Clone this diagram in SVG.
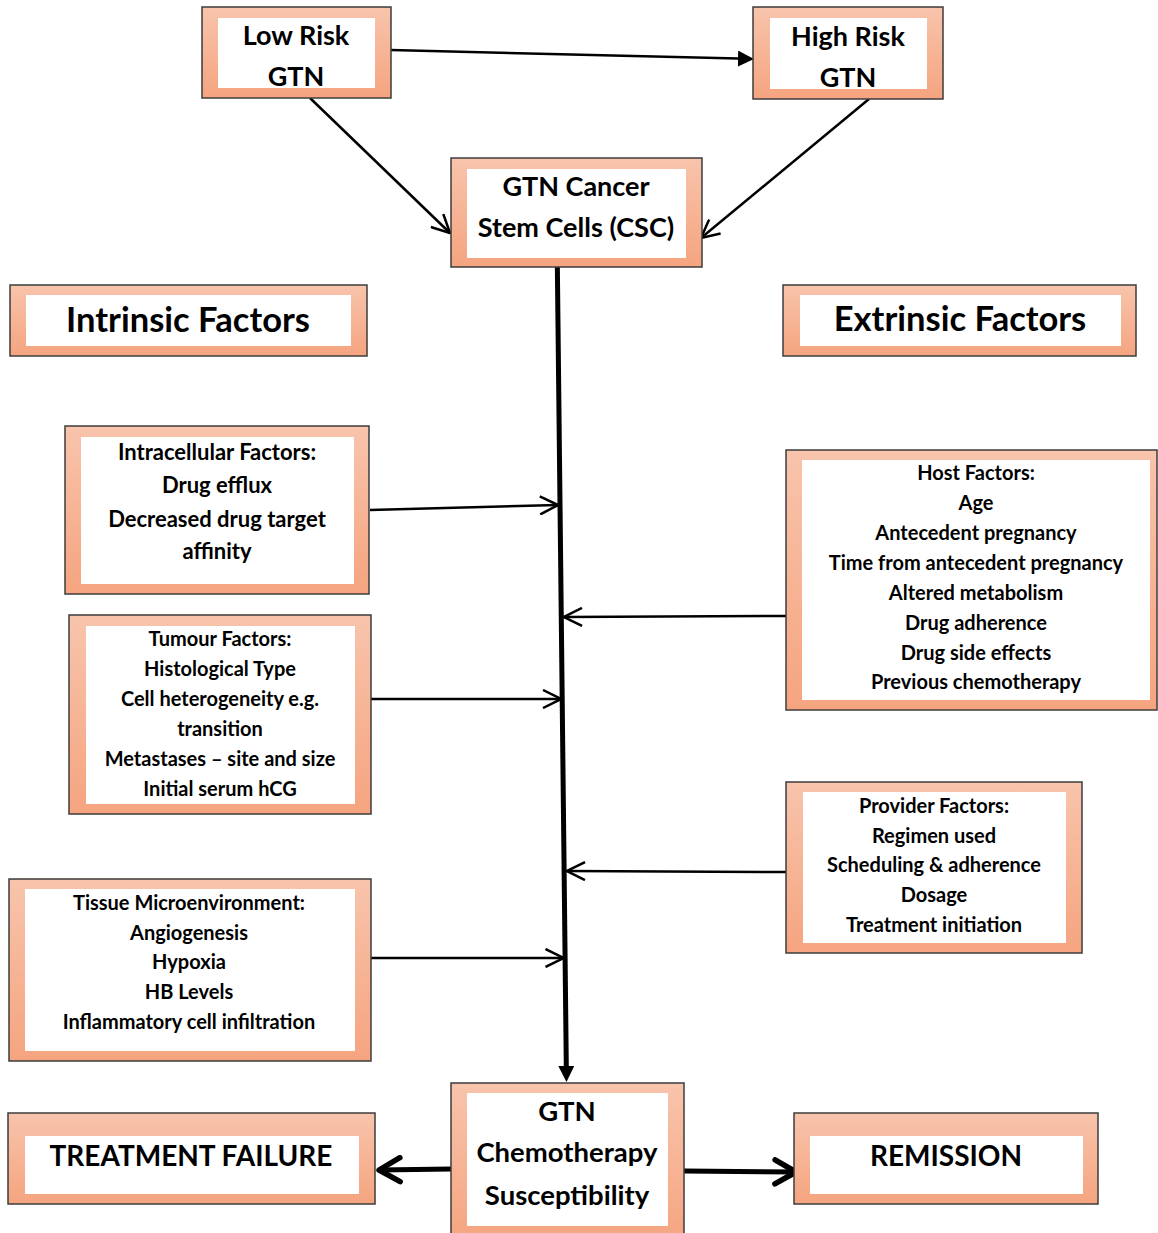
<svg xmlns="http://www.w3.org/2000/svg" width="1158" height="1233" viewBox="0 0 1158 1233">
<defs>
<linearGradient id="peach" x1="0" y1="0" x2="0" y2="1">
<stop offset="0" stop-color="#f8c4ac"/>
<stop offset="1" stop-color="#f5a47f"/>
</linearGradient>
<marker id="open" viewBox="0 0 20 20" refX="19" refY="10" markerWidth="20" markerHeight="20" markerUnits="userSpaceOnUse" orient="auto">
<path d="M1,1 L19,10 L1,19" fill="none" stroke="#000" stroke-width="2.5"/>
</marker>
<marker id="openThick" viewBox="0 0 30 30" refX="26" refY="15" markerWidth="30" markerHeight="30" markerUnits="userSpaceOnUse" orient="auto">
<path d="M5,3 L26,15 L5,27" fill="none" stroke="#000" stroke-width="5.5" stroke-linecap="round" stroke-linejoin="round"/>
</marker>
<marker id="filled" viewBox="0 0 16 16" refX="0" refY="8" markerWidth="16" markerHeight="16" markerUnits="userSpaceOnUse" orient="auto">
<path d="M0,0 L16,8 L0,16 z" fill="#000"/>
</marker>
</defs>
<style>
.outer{fill:url(#peach);stroke:#3c3c3c;stroke-width:1.5}
.inner{fill:#fff}
text{font-family:Lato,"Liberation Sans",sans-serif;font-weight:700;fill:#000;text-anchor:middle}
.big{font-size:34.5px}
.head{font-size:27px}
.chemo{font-size:27.5px}
.end{font-size:28px}
.small{font-size:20px}
.mid{font-size:22px}
.thin{fill:none;stroke:#000;stroke-width:2.5}
.thick{fill:none;stroke:#000;stroke-width:5}
</style>

<g id="connectors">
<path class="thin" d="M391,50 L738,58.6" marker-end="url(#filled)"/>
<path class="thin" d="M310,98 L450,233" marker-end="url(#open)"/>
<path class="thin" d="M869,99 L701,238" marker-end="url(#open)"/>
<path class="thick" d="M557.3,262 L566.3,1066" marker-end="url(#filled)"/>
<path class="thin" d="M370,510 L558,505" marker-end="url(#open)"/>
<path class="thin" d="M371,699 L561,699" marker-end="url(#open)"/>
<path class="thin" d="M371,958 L563.5,958" marker-end="url(#open)"/>
<path class="thin" d="M786,616 L564,617" marker-end="url(#open)"/>
<path class="thin" d="M786,872 L567,871" marker-end="url(#open)"/>
<path class="thick" d="M451,1169 L379,1170" marker-end="url(#openThick)"/>
<path class="thick" d="M684,1171 L796,1172" marker-end="url(#openThick)"/>
</g>

<g id="lowrisk">
<rect class="outer" x="202" y="7" width="189" height="91"/>
<rect class="inner" x="218" y="18" width="157" height="70"/>
<text class="head" x="296" y="45">Low Risk</text>
<text class="head" x="296" y="86">GTN</text>
</g>

<g id="highrisk">
<rect class="outer" x="753" y="7" width="190" height="92"/>
<rect class="inner" x="770" y="18" width="157" height="71"/>
<text class="head" x="848" y="46">High Risk</text>
<text class="head" x="848" y="87">GTN</text>
</g>

<g id="csc">
<rect class="outer" x="451" y="158" width="251" height="109"/>
<rect class="inner" x="467" y="169" width="219" height="89"/>
<text class="head" x="576" y="196">GTN Cancer</text>
<text class="head" x="576" y="237">Stem Cells (CSC)</text>
</g>

<g id="intrinsic">
<rect class="outer" x="10" y="285" width="357" height="71"/>
<rect class="inner" x="26" y="295" width="325" height="51"/>
<text class="big" x="188" y="332">Intrinsic Factors</text>
</g>

<g id="extrinsic">
<rect class="outer" x="783" y="285" width="353" height="71"/>
<rect class="inner" x="800" y="295" width="321" height="51"/>
<text class="big" x="960" y="331">Extrinsic Factors</text>
</g>

<g id="intracellular">
<rect class="outer" x="65" y="426" width="304" height="168"/>
<rect class="inner" x="81" y="437" width="273" height="147"/>
<text class="mid" x="217" y="460">Intracellular Factors:</text>
<text class="mid" x="217" y="493">Drug efflux</text>
<text class="mid" x="217" y="527">Decreased drug target</text>
<text class="mid" x="217" y="559">affinity</text>
</g>

<g id="host">
<rect class="outer" x="786" y="450" width="371" height="260"/>
<rect class="inner" x="802" y="460" width="348" height="240"/>
<text class="small" x="976" y="480">Host Factors:</text>
<text class="small" x="976" y="510">Age</text>
<text class="small" x="976" y="540">Antecedent pregnancy</text>
<text class="small" x="976" y="570">Time from antecedent pregnancy</text>
<text class="small" x="976" y="600">Altered metabolism</text>
<text class="small" x="976" y="630">Drug adherence</text>
<text class="small" x="976" y="660">Drug side effects</text>
<text class="small" x="976" y="689">Previous chemotherapy</text>
</g>

<g id="tumour">
<rect class="outer" x="69" y="615" width="302" height="199"/>
<rect class="inner" x="86" y="626" width="269" height="178"/>
<text class="small" x="220" y="646">Tumour Factors:</text>
<text class="small" x="220" y="676">Histological Type</text>
<text class="small" x="220" y="706">Cell heterogeneity e.g.</text>
<text class="small" x="220" y="736">transition</text>
<text class="small" x="220" y="766">Metastases – site and size</text>
<text class="small" x="220" y="796">Initial serum hCG</text>
</g>

<g id="provider">
<rect class="outer" x="786" y="782" width="296" height="171"/>
<rect class="inner" x="803" y="792" width="263" height="151"/>
<text class="small" x="934" y="813">Provider Factors:</text>
<text class="small" x="934" y="843">Regimen used</text>
<text class="small" x="934" y="872">Scheduling &amp; adherence</text>
<text class="small" x="934" y="902">Dosage</text>
<text class="small" x="934" y="932">Treatment initiation</text>
</g>

<g id="tissue">
<rect class="outer" x="9" y="879" width="362" height="182"/>
<rect class="inner" x="25" y="889" width="330" height="162"/>
<text class="small" x="189" y="910">Tissue Microenvironment:</text>
<text class="small" x="189" y="940">Angiogenesis</text>
<text class="small" x="189" y="969">Hypoxia</text>
<text class="small" x="189" y="999">HB Levels</text>
<text class="small" x="189" y="1029">Inflammatory cell infiltration</text>
</g>

<g id="chemo">
<rect class="outer" x="451" y="1083" width="233" height="160"/>
<rect class="inner" x="467" y="1093" width="201" height="133"/>
<text class="chemo" x="567" y="1121">GTN</text>
<text class="chemo" x="567" y="1162">Chemotherapy</text>
<text class="chemo" x="567" y="1205">Susceptibility</text>
</g>

<g id="failure">
<rect class="outer" x="8" y="1113" width="367" height="91"/>
<rect class="inner" x="25" y="1136" width="334" height="58"/>
<text class="end" x="191" y="1166">TREATMENT FAILURE</text>
</g>

<g id="remission">
<rect class="outer" x="794" y="1113" width="304" height="91"/>
<rect class="inner" x="810" y="1136" width="273" height="58"/>
<text class="end" x="946" y="1166">REMISSION</text>
</g>
</svg>
